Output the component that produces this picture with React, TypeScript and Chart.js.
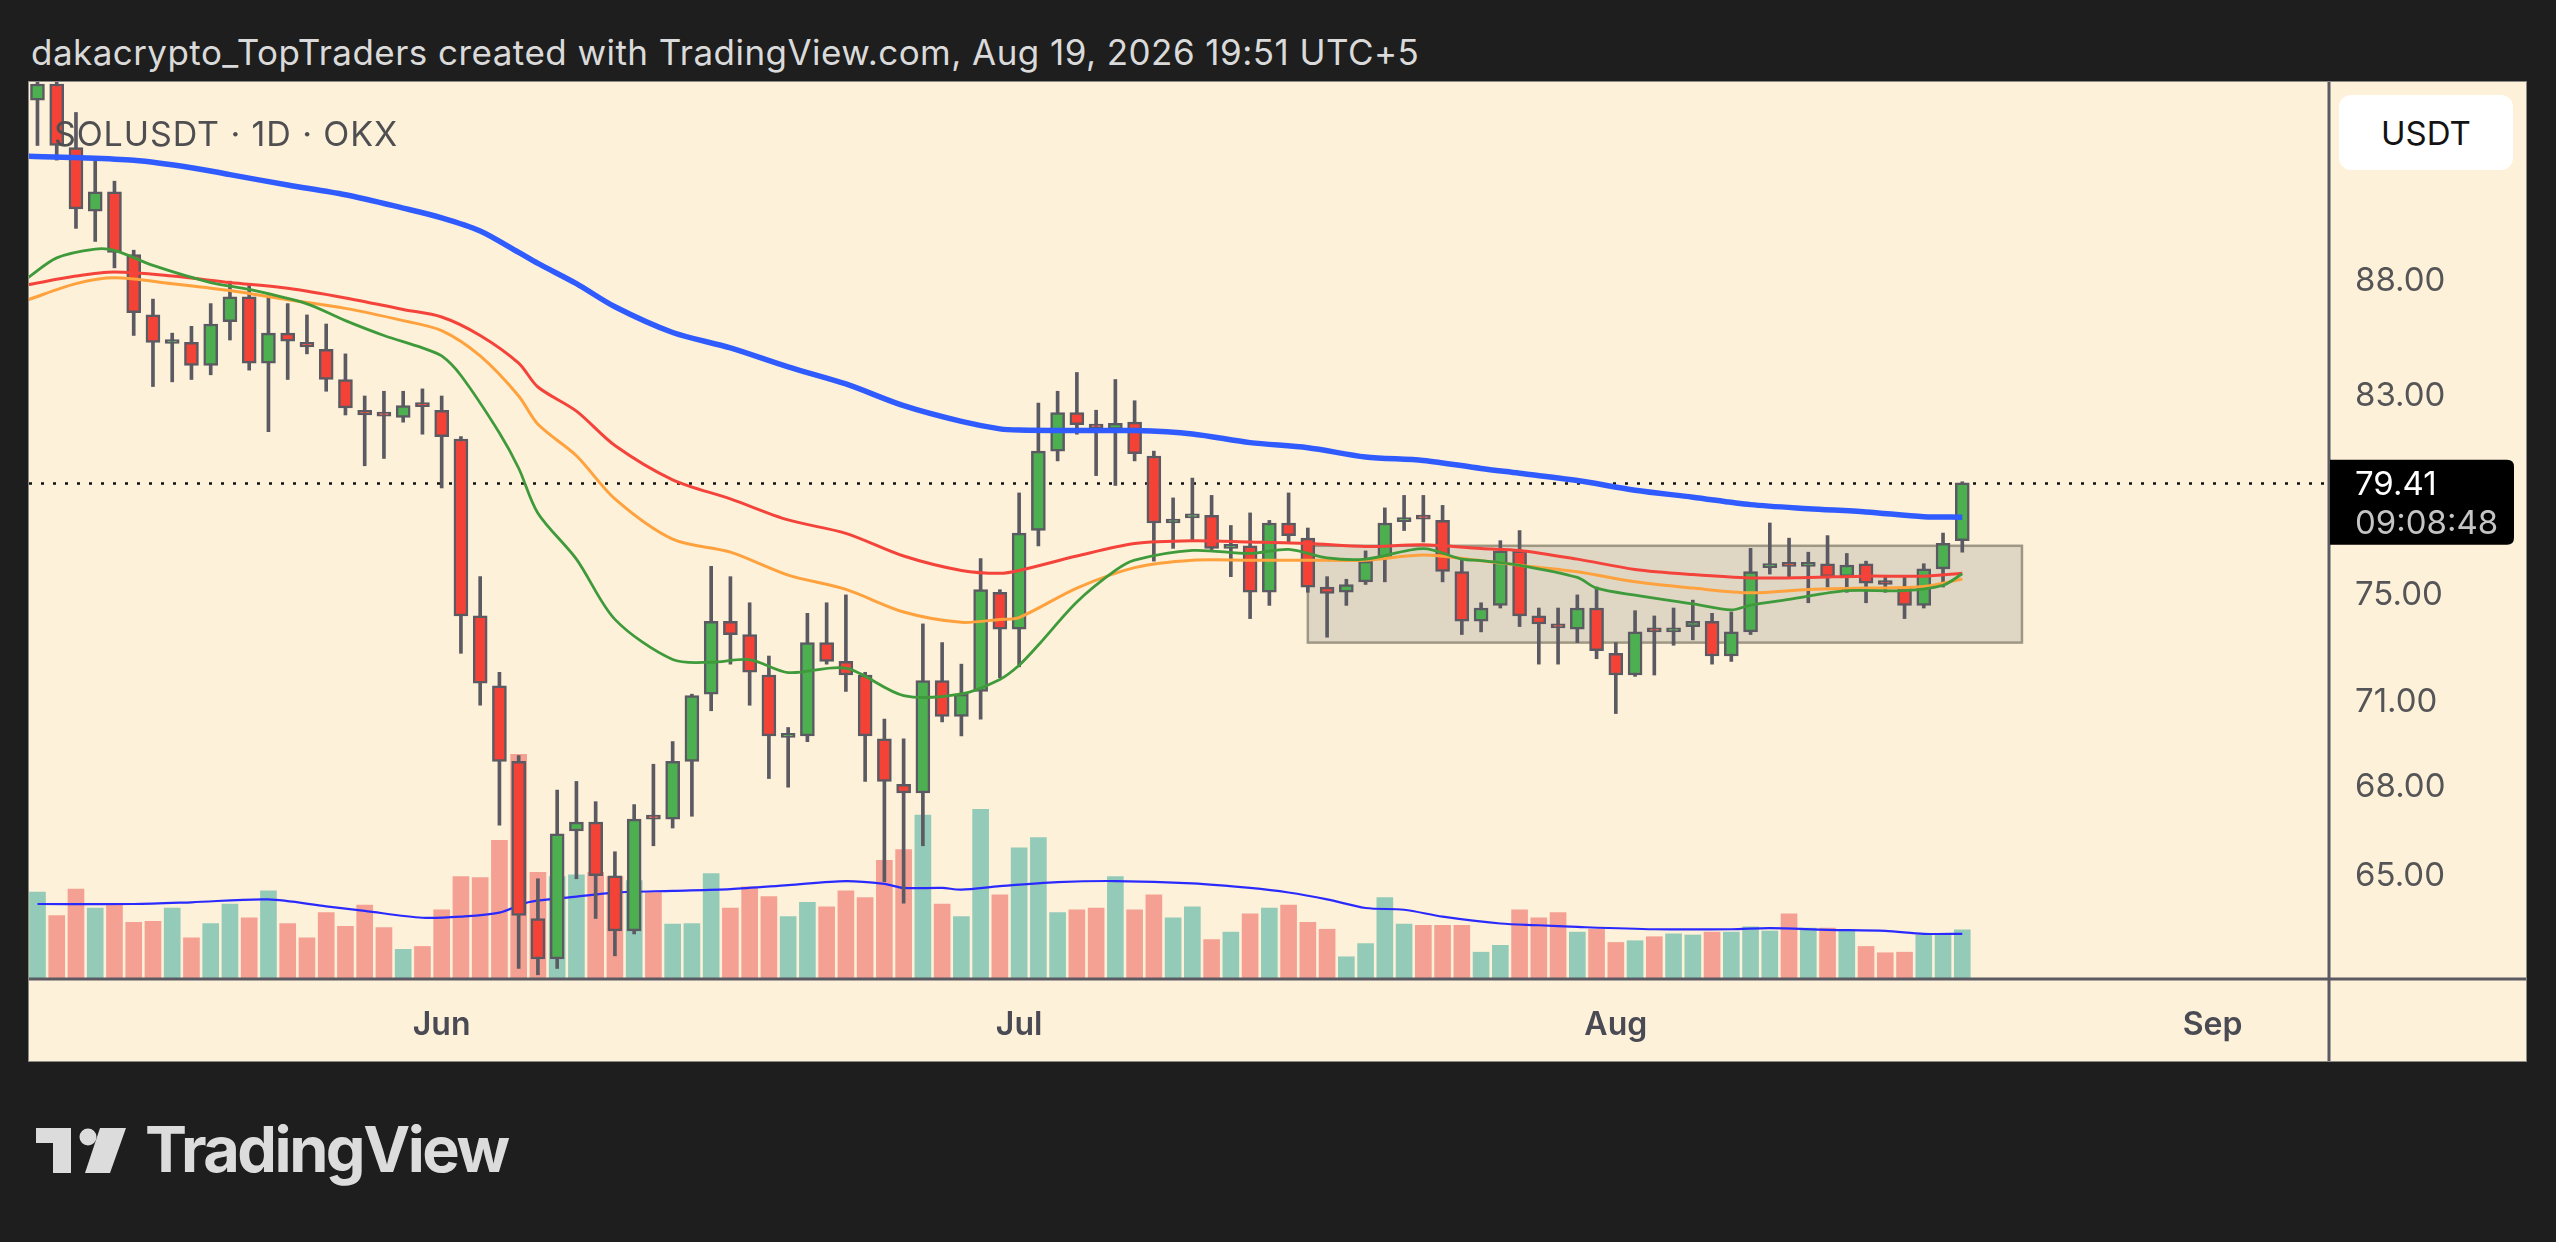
import React, { useEffect, useRef } from "react";
import { Chart, registerables } from "chart.js";

Chart.register(...registerables);

// ---------- data ----------
const TITLE = "dakacrypto_TopTraders created with TradingView.com, Aug 19, 2026 19:51 UTC+5";
const SYMBOL = "SOLUSDT · 1D · OKX";
const CURRENCY = "USDT";
const LAST_PRICE = 79.41;
const COUNTDOWN = "09:08:48";

// daily candles from May 11 to Aug 19, 2026 (index 0 = May 11)
const OPEN = [
  96.5, 97.3, 94.2, 91.2, 92.1, 89.2, 86.5, 85.25, 85.3, 84.3,
  86.2, 87.3, 84.4, 85.7, 85.3, 85.0, 83.7, 82.4, 82.2, 82.1,
  82.6, 82.4, 81.2, 74.2, 71.6, 68.9, 63.6, 62.3, 66.5, 66.8,
  65.0, 63.2, 66.95, 66.9, 68.9, 71.3, 74.0, 73.5, 72.0, 69.75,
  69.8, 73.2, 72.5, 72.0, 69.7, 68.1, 67.8, 71.8, 70.5, 71.4,
  75.1, 73.7, 77.5, 80.7, 82.3, 81.8, 81.6, 81.9, 80.5, 77.8,
  78.0, 78.1, 76.8, 76.9, 75.1, 77.8, 77.2, 75.3, 75.1, 75.5,
  76.4, 77.85, 78.0, 77.9, 75.9, 74.0, 74.6, 76.7, 74.2, 73.85,
  73.7, 74.5, 72.8, 72.0, 73.65, 73.6, 73.8, 74.0, 72.7, 73.6,
  76.05, 76.2, 76.1, 76.2, 75.7, 76.2, 75.45, 75.3, 74.6, 76.0,
  77.1,
];
const HIGH = [
  98.5, 98.5, 95.9, 93.6, 92.6, 89.4, 87.2, 85.7, 86.0, 87.0,
  88.0, 87.8, 87.4, 87.0, 86.5, 86.1, 84.8, 83.0, 83.2, 83.2,
  83.3, 83.0, 81.3, 75.7, 72.1, 69.1, 64.9, 67.9, 68.2, 67.5,
  65.8, 67.4, 68.8, 69.6, 71.3, 76.1, 75.7, 74.7, 72.7, 70.1,
  74.3, 74.7, 75.0, 72.1, 70.4, 69.7, 73.9, 73.2, 72.4, 76.4,
  75.2, 79.0, 82.7, 83.2, 84.0, 82.4, 83.7, 82.8, 80.7, 78.8,
  79.6, 78.9, 77.7, 78.2, 77.9, 79.0, 77.6, 75.7, 75.6, 76.7,
  78.4, 78.9, 78.9, 78.5, 76.4, 74.7, 77.1, 77.5, 74.5, 74.5,
  75.0, 75.3, 73.2, 74.4, 74.2, 74.5, 74.8, 74.3, 74.35, 76.8,
  77.8, 77.2, 76.65, 77.3, 76.6, 76.3, 75.7, 75.7, 76.2, 77.4,
  79.45,
];
const LOW = [
  94.3, 93.6, 90.4, 89.8, 88.6, 85.6, 83.4, 83.6, 83.7, 83.9,
  85.4, 84.1, 81.5, 83.7, 84.8, 83.2, 82.2, 80.1, 80.4, 81.9,
  81.4, 79.2, 72.8, 70.9, 66.7, 62.0, 61.8, 62.0, 64.9, 63.6,
  62.4, 63.1, 66.0, 66.6, 67.0, 70.7, 72.4, 70.9, 68.3, 68.0,
  69.6, 72.4, 71.4, 68.2, 64.8, 64.1, 66.0, 70.3, 69.8, 70.4,
  71.9, 72.3, 76.9, 80.3, 81.4, 79.7, 79.3, 80.3, 76.3, 76.8,
  77.1, 76.75, 75.7, 74.1, 74.6, 77.0, 75.1, 73.4, 74.6, 75.4,
  75.5, 77.5, 77.05, 75.5, 73.5, 73.6, 74.5, 73.8, 72.4, 72.4,
  73.2, 72.6, 70.6, 71.95, 72.0, 73.1, 73.3, 72.4, 72.5, 73.5,
  75.8, 75.7, 74.7, 75.3, 75.1, 74.7, 75.1, 74.1, 74.5, 75.3,
  76.65,
];
const CLOSE = [
  97.3, 94.3, 91.3, 92.1, 89.3, 86.6, 85.3, 85.32, 84.3, 86.1,
  87.3, 84.4, 85.7, 85.35, 85.1, 83.7, 82.5, 82.2, 82.15, 82.6,
  82.55, 81.3, 74.2, 71.7, 68.9, 63.7, 62.3, 66.4, 66.8, 65.0,
  63.2, 66.9, 66.9, 68.9, 71.25, 74.0, 73.5, 72.1, 69.8, 69.8,
  73.2, 72.5, 72.0, 69.8, 68.2, 67.8, 71.8, 70.5, 71.3, 75.2,
  73.7, 77.4, 80.7, 82.3, 81.8, 81.65, 81.85, 80.6, 77.8, 77.9,
  78.15, 76.8, 76.9, 75.1, 77.8, 77.3, 75.3, 75.06, 75.4, 76.3,
  77.8, 78.0, 77.95, 75.9, 74.0, 74.5, 76.7, 74.2, 73.9, 73.75,
  74.5, 72.9, 72.0, 73.6, 73.6, 73.7, 74.0, 72.7, 73.6, 75.9,
  76.2, 76.1, 76.15, 75.7, 76.15, 75.45, 75.4, 74.6, 76.0, 77.0,
  79.41,
];
const VOLUME = [
  15.0, 10.9, 15.5, 12.2, 12.9, 9.7, 9.9, 12.2, 7.0, 9.5,
  12.9, 10.5, 15.2, 9.5, 7.0, 11.4, 9.0, 12.7, 8.8, 5.0,
  5.5, 11.9, 17.7, 17.5, 24.0, 39.0, 18.4, 17.7, 18.0, 18.4,
  17.7, 17.0, 14.9, 9.4, 9.5, 18.2, 12.2, 15.9, 14.2, 10.7,
  13.2, 12.4, 15.2, 14.0, 20.5, 22.4, 28.4, 12.9, 10.7, 29.4,
  14.5, 22.7, 24.5, 11.4, 11.9, 12.2, 17.7, 11.9, 14.5, 10.5,
  12.4, 6.7, 8.0, 11.2, 12.2, 12.7, 9.7, 8.5, 3.7, 6.0,
  14.0, 9.4, 9.2, 9.2, 9.2, 4.5, 5.7, 11.9, 10.5, 11.4,
  8.0, 8.5, 6.2, 6.5, 7.2, 7.7, 7.5, 8.0, 8.0, 8.9,
  8.2, 11.2, 8.7, 8.7, 8.2, 5.5, 4.4, 4.5, 7.5, 7.5,
  8.4,
];

// moving averages (at the given candle indices)
const BLUE_X = [-0.5, 2, 5, 8, 10, 13, 16, 19, 21, 23, 25, 26, 28, 30, 33, 36, 39, 42, 45, 48, 50, 51, 54, 57, 60, 63, 66, 69, 72, 75, 77, 80, 83, 86, 89, 92, 95, 98, 100];
const BLUE_Y = [93.78, 93.72, 93.59, 93.24, 92.91, 92.42, 91.96, 91.34, 90.89, 90.28, 89.3, 88.8, 87.89, 86.86, 85.73, 85.06, 84.24, 83.51, 82.59, 81.93, 81.62, 81.57, 81.55, 81.55, 81.41, 81.05, 80.84, 80.46, 80.32, 79.99, 79.8, 79.5, 79.11, 78.83, 78.53, 78.37, 78.24, 78.05, 78.03];
const RED_X = [-0.5, 2, 4, 7, 10, 13, 16, 19, 21, 23, 25, 26, 28, 30, 33, 36, 39, 42, 45, 48, 50, 51, 54, 57, 60, 63, 66, 69, 72, 75, 77, 80, 83, 86, 89, 92, 95, 98, 100];
const RED_Y = [87.84, 88.23, 88.41, 88.23, 87.94, 87.68, 87.25, 86.74, 86.41, 85.6, 84.4, 83.38, 82.36, 80.93, 79.53, 78.76, 77.92, 77.39, 76.5, 75.94, 75.83, 75.94, 76.5, 76.99, 77.1, 77.05, 76.99, 76.87, 76.94, 76.79, 76.72, 76.38, 75.98, 75.78, 75.65, 75.67, 75.72, 75.72, 75.83];
const ORANGE_X = [-0.5, 2, 4, 7, 10, 13, 16, 19, 21, 23, 25, 26, 28, 30, 33, 36, 39, 42, 45, 48, 50, 51, 54, 57, 60, 63, 66, 69, 72, 75, 77, 80, 83, 86, 89, 92, 95, 98, 100];
const ORANGE_Y = [87.17, 87.89, 88.15, 87.89, 87.58, 87.17, 86.79, 86.25, 85.81, 84.71, 83.0, 81.81, 80.51, 78.76, 77.16, 76.65, 75.76, 75.21, 74.35, 73.96, 74.07, 74.14, 75.26, 76.05, 76.34, 76.34, 76.34, 76.34, 76.54, 76.32, 76.14, 75.89, 75.5, 75.26, 75.08, 75.21, 75.26, 75.32, 75.61];
const GREEN_X = [-0.5, 1, 3, 4, 6, 9, 11, 14, 16, 18, 20, 21, 22, 24, 25, 26, 28, 30, 33, 35, 37, 39, 42, 45, 48, 50, 51, 52, 54, 56, 57, 60, 63, 65, 67, 69, 72, 74, 75, 77, 80, 81, 83, 86, 88, 89, 91, 94, 97, 99, 100];
const GREEN_Y = [88.15, 89.05, 89.45, 89.39, 88.71, 87.94, 87.63, 86.99, 86.25, 85.6, 85.06, 84.71, 83.87, 81.45, 80.0, 78.19, 76.38, 74.07, 72.57, 72.47, 72.57, 72.09, 72.25, 71.25, 71.31, 71.84, 72.36, 73.11, 74.73, 75.94, 76.34, 76.72, 76.6, 76.76, 76.43, 76.38, 76.79, 76.38, 76.32, 76.14, 75.67, 75.26, 74.99, 74.66, 74.43, 74.61, 74.83, 75.16, 75.16, 75.37, 75.81];
const VOL_MA_X = [0, 5, 8, 12, 15, 17, 20, 22, 24, 25.5, 28, 30, 33, 36, 39, 42, 44, 45, 47, 48, 50, 53, 56, 60, 63, 65, 67, 69, 71, 73, 76, 78, 80, 84, 88, 90, 93, 96, 98, 100];
const VOL_MA_Y = [12.9, 12.9, 13.2, 13.7, 12.5, 11.7, 10.5, 10.7, 11.4, 13.2, 14.2, 14.9, 15.2, 15.5, 16.2, 16.9, 16.4, 15.7, 15.7, 15.4, 16.0, 16.7, 16.9, 16.5, 15.7, 14.9, 13.7, 12.2, 11.9, 10.7, 9.5, 9.2, 8.9, 8.5, 8.5, 8.7, 8.4, 8.2, 7.7, 7.7];

// consolidation box (candle index range, price range)
const BOX_X = [66.0, 103.1];
const BOX_PRICE = [73.2, 76.9];

// axes
const PRICE_TICKS = [65, 68, 71, 75, 83, 88];
const MONTH_TICKS = [21, 51, 82, 113];
const MONTH_LABELS = ["Jun", "Jul", "Aug", "Sep"];
const X_RANGE = [-0.44, 119.0];
const PRICE_RANGE = [61.7, 97.4];
const VOLUME_RANGE = [0, 156.2];

// ---------- styles ----------
const CREAM = "#fdf1d9";
const DARK = "#1e1e1e";
const UP = "#4caf50";
const DOWN = "#f44336";
const EDGE = "#5b5a62";
const VOL_UP = "#93cbb8";
const VOL_DOWN = "#f4a193";
const FONT = "Inter, 'Noto Sans', sans-serif";

const overlayPlugin = {
  id: "tvOverlay",
  beforeDatasetsDraw(chart: any) {
    const { ctx, chartArea, scales } = chart;
    const x = scales.x;
    const y = scales.y;
    ctx.save();
    ctx.beginPath();
    ctx.rect(chartArea.left, chartArea.top, chartArea.right - chartArea.left, chartArea.bottom - chartArea.top);
    ctx.clip();
    // box
    const bx0 = x.getPixelForValue(BOX_X[0]);
    const bx1 = x.getPixelForValue(BOX_X[1]);
    const by0 = y.getPixelForValue(BOX_PRICE[1]);
    const by1 = y.getPixelForValue(BOX_PRICE[0]);
    ctx.fillStyle = "rgba(128,128,128,0.24)";
    ctx.fillRect(bx0, by0, bx1 - bx0, by1 - by0);
    ctx.strokeStyle = "#9e9784";
    ctx.lineWidth = 2.5;
    ctx.strokeRect(bx0, by0, bx1 - bx0, by1 - by0);
    // dotted last-price line
    const py = Math.round(y.getPixelForValue(LAST_PRICE)) + 0.5;
    ctx.strokeStyle = "#111111";
    ctx.lineWidth = 2.5;
    ctx.setLineDash([3, 9]);
    ctx.beginPath();
    ctx.moveTo(chartArea.left, py);
    ctx.lineTo(chartArea.right, py);
    ctx.stroke();
    ctx.restore();
  },
  afterDraw(chart: any) {
    const { ctx, chartArea, scales, width, height } = chart;
    const y = scales.y;
    ctx.save();
    // dividers
    ctx.strokeStyle = EDGE;
    ctx.lineWidth = 3;
    ctx.beginPath();
    ctx.moveTo(0, chartArea.bottom + 1);
    ctx.lineTo(width, chartArea.bottom + 1);
    ctx.moveTo(chartArea.right + 1, 0);
    ctx.lineTo(chartArea.right + 1, height);
    ctx.stroke();
    // last price label
    const py = y.getPixelForValue(LAST_PRICE);
    const lx = chartArea.right + 2;
    const lw = 184;
    const top = py - 23;
    const h = 85;
    const r = 7;
    ctx.fillStyle = "#000000";
    ctx.beginPath();
    ctx.moveTo(lx, top);
    ctx.lineTo(lx + lw - r, top);
    ctx.quadraticCurveTo(lx + lw, top, lx + lw, top + r);
    ctx.lineTo(lx + lw, top + h - r);
    ctx.quadraticCurveTo(lx + lw, top + h, lx + lw - r, top + h);
    ctx.lineTo(lx, top + h);
    ctx.closePath();
    ctx.fill();
    ctx.font = `33px ${FONT}`;
    ctx.textAlign = "left";
    ctx.textBaseline = "middle";
    ctx.fillStyle = "#ffffff";
    ctx.fillText(LAST_PRICE.toFixed(2), chartArea.right + 27, py + 2);
    ctx.fillStyle = "#c4c4c4";
    ctx.fillText(COUNTDOWN, chartArea.right + 27, py + 41);
    ctx.restore();
  },
};

function buildConfig(): any {
  const idx = CLOSE.map((_, i) => i);
  const up = idx.map((i) => CLOSE[i] >= OPEN[i]);
  return {
    type: "bar",
    data: {
      datasets: [
        {
          type: "bar",
          label: "Volume",
          yAxisID: "yv",
          data: idx.map((i) => ({ x: i, y: VOLUME[i] })),
          backgroundColor: up.map((u) => (u ? VOL_UP : VOL_DOWN)),
          barThickness: 16,
          grouped: false,
          order: 10,
        },
        {
          type: "line",
          label: "Volume MA",
          yAxisID: "yv",
          data: VOL_MA_X.map((x, i) => ({ x, y: VOL_MA_Y[i] })),
          borderColor: "#2a2aff",
          borderWidth: 2.2,
          pointRadius: 0,
          tension: 0.3,
          order: 9,
        },
        {
          type: "bar",
          label: "Wicks",
          yAxisID: "y",
          data: idx.map((i) => ({ x: i, y: [LOW[i], HIGH[i]] })),
          backgroundColor: EDGE,
          barThickness: 3,
          grouped: false,
          order: 6,
        },
        {
          type: "bar",
          label: "SOLUSDT",
          yAxisID: "y",
          data: idx.map((i) => ({ x: i, y: [Math.min(OPEN[i], CLOSE[i]), Math.max(OPEN[i], CLOSE[i])] })),
          backgroundColor: up.map((u) => (u ? UP : DOWN)),
          borderColor: EDGE,
          borderWidth: 2.5,
          borderSkipped: false,
          minBarLength: 4,
          barThickness: 14,
          grouped: false,
          order: 5,
        },
        {
          type: "line",
          label: "MA blue",
          yAxisID: "y",
          data: BLUE_X.map((x, i) => ({ x, y: BLUE_Y[i] })),
          borderColor: "#2f5bff",
          borderWidth: 5.5,
          pointRadius: 0,
          tension: 0.3,
          order: 4,
        },
        {
          type: "line",
          label: "MA red",
          yAxisID: "y",
          data: RED_X.map((x, i) => ({ x, y: RED_Y[i] })),
          borderColor: "#f4433a",
          borderWidth: 3,
          pointRadius: 0,
          tension: 0.3,
          order: 3,
        },
        {
          type: "line",
          label: "MA orange",
          yAxisID: "y",
          data: ORANGE_X.map((x, i) => ({ x, y: ORANGE_Y[i] })),
          borderColor: "#ffa13d",
          borderWidth: 3,
          pointRadius: 0,
          tension: 0.3,
          order: 2,
        },
        {
          type: "line",
          label: "MA green",
          yAxisID: "y",
          data: GREEN_X.map((x, i) => ({ x, y: GREEN_Y[i] })),
          borderColor: "#3f9a3b",
          borderWidth: 2.8,
          pointRadius: 0,
          tension: 0.3,
          order: 1,
        },
      ],
    },
    options: {
      responsive: false,
      maintainAspectRatio: false,
      devicePixelRatio: 1,
      animation: false,
      events: [],
      layout: { padding: 0, autoPadding: false },
      plugins: { legend: { display: false }, tooltip: { enabled: false } },
      scales: {
        x: {
          type: "linear",
          position: "bottom",
          min: X_RANGE[0],
          max: X_RANGE[1],
          bounds: "data",
          offset: false,
          grid: { display: false, drawTicks: false, offset: false },
          border: { display: false },
          afterBuildTicks: (s: any) => {
            s.ticks = MONTH_TICKS.map((v) => ({ value: v }));
          },
          afterFit: (s: any) => {
            s.height = 83;
            s.paddingLeft = 0;
            s.paddingRight = 0;
            s.paddingTop = 0;
            s.paddingBottom = 0;
          },
          ticks: {
            autoSkip: false,
            maxRotation: 0,
            padding: 28,
            color: "#4a4a55",
            font: { family: FONT, size: 32, weight: "600" },
            callback: (v: any) => MONTH_LABELS[MONTH_TICKS.indexOf(Number(v))] ?? "",
          },
        },
        y: {
          type: "logarithmic",
          position: "right",
          min: PRICE_RANGE[0],
          max: PRICE_RANGE[1],
          bounds: "data",
          grid: { display: false, drawTicks: false },
          border: { display: false },
          afterBuildTicks: (s: any) => {
            s.ticks = PRICE_TICKS.map((v) => ({ value: v }));
          },
          afterFit: (s: any) => {
            s.width = 198;
            s.paddingTop = 0;
            s.paddingBottom = 0;
            s.paddingLeft = 0;
            s.paddingRight = 0;
          },
          ticks: {
            autoSkip: false,
            padding: 27,
            color: "#555558",
            font: { family: FONT, size: 33 },
            callback: (v: any) => Number(v).toFixed(2),
          },
        },
        yv: {
          type: "linear",
          display: false,
          min: VOLUME_RANGE[0],
          max: VOLUME_RANGE[1],
          bounds: "data",
        },
      },
    },
    plugins: [overlayPlugin],
  };
}

export default function App() {
  const ref = useRef<HTMLCanvasElement | null>(null);
  useEffect(() => {
    if (!ref.current) return;
    const chart = new Chart(ref.current, buildConfig());
    return () => chart.destroy();
  }, []);

  return (
    <div
      style={{
        position: "fixed",
        left: 0,
        top: 0,
        width: 2556,
        height: 1242,
        background: DARK,
        overflow: "hidden",
        fontFamily: FONT,
      }}
    >
      <div
        style={{
          position: "absolute",
          left: 31,
          top: 35,
          fontSize: 35,
          lineHeight: 1,
          letterSpacing: 0.45,
          color: "#dadada",
          whiteSpace: "nowrap",
        }}
      >
        {TITLE}
      </div>
      <div
        style={{
          position: "absolute",
          left: 29,
          top: 82,
          width: 2497,
          height: 979,
          background: CREAM,
          boxShadow: "0 0 0 1px #8c8a85",
        }}
      >
        <canvas ref={ref} width={2497} height={979} style={{ display: "block", width: 2497, height: 979 }} />
        <div
          style={{
            position: "absolute",
            left: 25,
            top: 35,
            fontSize: 34,
            lineHeight: 1,
            letterSpacing: 0.9,
            color: "#4f4f52",
            whiteSpace: "nowrap",
            pointerEvents: "none",
          }}
        >
          {SYMBOL}
        </div>
        <div
          style={{
            position: "absolute",
            left: 2310,
            top: 13,
            width: 174,
            height: 75,
            background: "#ffffff",
            borderRadius: 12,
            display: "flex",
            alignItems: "center",
            justifyContent: "center",
            fontSize: 33,
            color: "#131313",
          }}
        >
          {CURRENCY}
        </div>
      </div>
      <svg
        style={{ position: "absolute", left: 0, top: 1100 }}
        width={140}
        height={100}
        viewBox="0 1100 140 100"
      >
        <path d="M36 1128 H71 V1173 H53 V1143 H36 Z" fill="#dcdcdc" />
        <circle cx={88} cy={1137} r={8.5} fill="#dcdcdc" />
        <path d="M100 1128 H126 L110 1173 H85 Z" fill="#dcdcdc" />
      </svg>
      <div
        style={{
          position: "absolute",
          left: 145,
          top: 1118,
          fontSize: 63,
          fontWeight: 700,
          lineHeight: 1,
          letterSpacing: -2.5,
          color: "#dcdcdc",
          whiteSpace: "nowrap",
        }}
      >
        TradingView
      </div>
    </div>
  );
}
